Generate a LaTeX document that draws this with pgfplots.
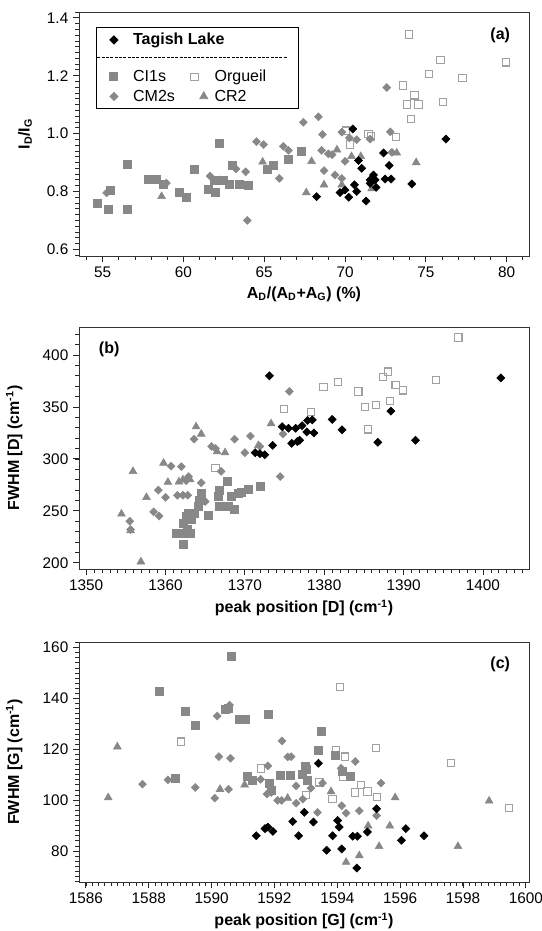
\documentclass[border=0pt]{standalone}
\usepackage{fontspec}
\setmainfont{Liberation Sans}
\usepackage{pgfplots}
\pgfplotsset{compat=1.18}
\definecolor{mgray}{RGB}{136,136,136}
\definecolor{ogray}{RGB}{160,160,160}

\tikzset{plab/.style={font=\bfseries\fontsize{12}{14}\selectfont}}
\pgfplotsset{
  panel/.style={
    scale only axis, width=337.5pt,
    axis line style={black!80, line width=0.65pt},
    tick style={black!85, line width=0.7pt},
    minor tick style={black!85, line width=0.6pt},
    tick align=outside, xtick pos=left, ytick pos=left,
    major tick length=4.5pt, minor tick length=2.8pt,
    tick label style={font=\fontsize{11.5}{13}\selectfont},
    label style={font=\bfseries\fontsize{12}{14}\selectfont},
    /pgf/number format/assume math mode=true,
    /pgf/number format/1000 sep={},
    clip=false,
  },
  tl/.style={only marks, color=black, mark=square*, mark size=2.15pt, mark options={rotate=45, fill=black, draw=black}},
  ci/.style={only marks, color=mgray, mark=square*, mark size=3pt, mark options={fill=mgray, draw=mgray}},
  og/.style={only marks, color=ogray, mark=square, mark size=2.75pt, mark options={draw=ogray, line width=0.8pt}},
  cm/.style={only marks, color=mgray, mark=square*, mark size=2.1pt, mark options={rotate=45, fill=mgray, draw=mgray}},
  cr/.style={only marks, color=mgray, mark=triangle*, mark size=3.4pt, mark options={fill=mgray, draw=mgray}},
}

\begin{document}
\begin{tikzpicture}
\path[use as bounding box] (0,0) rectangle (406.5pt,-698.25pt);

% ---------- (a)
\begin{axis}[panel,
  at={(59.25pt,-192pt)}, anchor=south west, height=183pt,
  xmin=53.54, xmax=81.38, ymin=0.577, ymax=1.42,
  xtick={55,60,...,80}, minor xtick={54,55,...,81},
  ytick={0.6,0.8,1.0,1.2,1.4}, minor ytick={0.58,0.60,...,1.42},
  yticklabel style={/pgf/number format/.cd, fixed, fixed zerofill, precision=1},
  xlabel={A\textsubscript{D}/(A\textsubscript{D}+A\textsubscript{G}) (\%)},
  ylabel={I\textsubscript{D}/I\textsubscript{G}},
  ylabel style={at={(axis description cs:-0.12,0.5)}, anchor=center},
  legend columns=2, legend cell align=left,
  legend image code/.code={\path (0pt,0pt) (12.5pt,0pt); \draw[#1] plot coordinates {(6.25pt,0pt)};},
  legend style={at={(0.0378,0.937)}, anchor=north west, draw=black, line width=0.7pt,
    fill=white, font=\fontsize{12}{14}\selectfont, inner xsep=6.5pt, inner ysep=2.5pt,
    row sep=1.75pt, nodes={inner sep=1.5pt},
    /tikz/column 1/.style={column sep=6.3pt},
    /tikz/column 2/.style={column sep=6.55pt},
    /tikz/column 3/.style={column sep=0pt}},
]
\addlegendimage{tl}
\addlegendentry{\makebox[0pt][l]{\textbf{Tagish Lake}}}
\addlegendimage{empty legend}
\addlegendentry{}
\addlegendimage{empty legend}
\addlegendentry{\rule{0pt}{6.4pt}\makebox[0pt][l]{\hspace*{-26.8pt}\xleaders\hbox to 3.2pt{\rule[2.8pt]{2.2pt}{0.8pt}\hss}\hskip 143pt\relax}}
\addlegendimage{empty legend}
\addlegendentry{}
\addlegendimage{ci}
\addlegendentry{CI1s}
\addlegendimage{og, xshift=-7pt}
\addlegendentry{Orgueil\hspace*{16pt}}
\addlegendimage{cm}
\addlegendentry{CM2s}
\addlegendimage{cr}
\addlegendentry{CR2}

\addplot[og, forget plot] coordinates {
(73.97,1.342) (75.90,1.254) (75.20,1.205) (77.27,1.191) (79.96,1.246)
(73.60,1.166) (74.30,1.132) (73.84,1.100) (74.55,1.100) (76.05,1.109)
(74.07,1.051) (73.16,0.988) (71.45,0.998) (71.60,0.990) (70.05,1.010)
(70.30,0.962)
};
\addplot[ci, forget plot] coordinates {
(54.65,0.760) (55.32,0.737) (55.45,0.805) (56.50,0.893) (56.55,0.740)
(57.85,0.841) (58.35,0.841) (58.75,0.826) (59.75,0.797) (60.20,0.781)
(60.65,0.876) (61.55,0.806) (61.95,0.797) (62.20,0.965) (61.90,0.839)
(62.45,0.838) (63.05,0.891) (62.85,0.826) (63.45,0.826) (64.00,0.823)
(65.17,0.875) (65.58,0.892) (66.50,0.912) (67.30,0.939)
};
\addplot[cm, forget plot] coordinates {
(55.25,0.795) (58.95,0.829) (61.65,0.853) (62.25,0.840) (63.25,0.878)
(63.85,0.868) (63.95,0.700) (64.52,0.972) (64.96,0.962) (72.58,1.159)
(68.35,1.058) (67.42,1.039) (68.60,0.997) (69.80,1.005) (70.27,0.985)
(70.72,0.979) (71.55,0.981) (72.80,1.006) (72.90,0.935) (66.18,0.956)
(66.50,0.942) (68.55,0.942) (68.97,0.930) (69.20,0.927) (70.00,0.904)
(68.70,0.872) (69.38,0.857) (69.80,0.845) (65.93,0.845)
};
\addplot[cr, forget plot] coordinates {
(58.65,0.783) (64.90,0.902) (69.50,0.944) (70.97,0.921) (70.40,0.921)
(67.93,0.904) (73.20,0.933) (74.40,0.900) (68.70,0.823) (67.60,0.796)
(69.80,0.823) (71.65,0.810)
};
\addplot[tl, forget plot] coordinates {
(70.48,1.016) (76.24,0.981) (72.38,0.933) (70.83,0.907) (71.03,0.880)
(72.73,0.890) (71.76,0.857) (71.55,0.840) (71.86,0.840) (72.48,0.843)
(72.85,0.843) (71.55,0.828) (71.92,0.814) (74.13,0.826) (70.58,0.823)
(70.72,0.800) (69.69,0.796) (70.00,0.805) (70.23,0.780) (68.24,0.782)
(71.30,0.767)
};
\node[plab] at (rel axis cs:0.936,0.903) {(a)};
\end{axis}

% ---------- (b)
\begin{axis}[panel,
  at={(59.25pt,-426.75pt)}, anchor=south west, height=181.5pt,
  xmin=1349.1, xmax=1405.8, ymin=194, ymax=427,
  xtick={1350,1360,...,1400}, minor xtick={1350,1351,...,1405},
  ytick={200,250,...,400}, minor ytick={200,210,...,420},
  xlabel={peak position [D] (cm\textsuperscript{-1})},
  ylabel={FWHM [D] (cm\textsuperscript{-1})},
  ylabel style={at={(axis description cs:-0.144,0.5)}, anchor=center},
]
\addplot[og] coordinates {
(1396.9,417) (1388.0,384) (1387.4,379) (1389.0,371) (1389.9,366)
(1394.1,376) (1381.75,374) (1379.9,369.5) (1384.3,365) (1388.3,356)
(1386.5,352) (1385.1,350) (1378.3,345) (1385.5,328.5) (1374.96,347.8)
(1366.3,291)
};
\addplot[ci] coordinates {
(1372.0,273.4) (1370.4,271) (1369.6,268) (1369.2,267) (1367.75,278)
(1366.8,270) (1366.6,264.4) (1368.3,264) (1366.8,254) (1368.7,251.6)
(1367.9,254) (1365.4,246) (1364.5,267) (1364.3,260.6) (1364.1,254)
(1363.6,248) (1363.2,241.6) (1362.9,248) (1362.6,244.6) (1362.2,238)
(1361.3,228.5) (1362.2,228.5) (1363.1,228) (1362.2,218) (1362.7,232)
};
\addplot[cm] coordinates {
(1375.6,365) (1374.45,283) (1374.8,324) (1371.9,312) (1370.7,322)
(1368.7,319) (1370.0,306) (1365.8,312) (1366.3,310) (1367.0,288)
(1363.6,319) (1362.0,292.6) (1360.7,293) (1362.9,283) (1362.6,279)
(1361.5,265) (1362.2,265) (1362.8,265) (1364.5,277) (1365.0,259)
(1359.1,270) (1360.0,263) (1358.5,249) (1359.2,245) (1355.5,240)
(1355.6,232)
};
\addplot[cr] coordinates {
(1363.85,331) (1364.5,324) (1373.3,334) (1371.7,313) (1366.5,307)
(1367.5,306) (1359.75,296) (1355.9,288) (1360.3,277.6) (1361.7,278)
(1362.2,280) (1363.1,280) (1357.6,263) (1354.45,247) (1355.6,231)
(1356.9,201)
};
\addplot[tl] coordinates {
(1402.25,378) (1388.4,346) (1381.0,338) (1382.25,328) (1378.5,337.5)
(1378.7,325) (1386.75,316) (1391.5,318) (1373.1,380) (1373.5,313)
(1371.3,306) (1371.9,305) (1372.5,304) (1374.7,331) (1375.5,329.5)
(1376.4,329.5) (1377.2,332) (1375.9,315) (1376.6,316.7) (1376.9,318)
(1377.9,337) (1377.8,326)
};
\node[plab] at (rel axis cs:0.067,0.908) {(b)};
\end{axis}

% ---------- (c)
\begin{axis}[panel,
  at={(59.25pt,-661.5pt)}, anchor=south west, height=180pt,
  xmin=1585.78, xmax=1600.1, ymin=67.8, ymax=162.2,
  xtick={1586,1588,...,1600}, minor xtick={1586,1586.2,...,1600},
  ytick={80,100,...,160}, minor ytick={68,70,...,162},
  xlabel={peak position [G] (cm\textsuperscript{-1})},
  ylabel={FWHM [G] (cm\textsuperscript{-1})},
  ylabel style={at={(axis description cs:-0.144,0.5)}, anchor=center},
]
\addplot[og] coordinates {
(1589.02,123.0) (1591.58,112.5) (1593.00,102.0) (1594.08,144.6) (1595.23,120.4)
(1597.61,114.5) (1599.46,96.9) (1593.96,119.7) (1594.25,117.1) (1594.19,109.3)
(1594.75,106.0) (1594.56,103.0) (1594.96,103.4) (1595.26,101.2) (1593.85,100.4)
(1593.43,107.0)
};
\addplot[ci] coordinates {
(1590.62,156.6) (1588.35,142.9) (1589.17,135.0) (1589.47,129.3) (1590.43,135.7)
(1590.52,136.3) (1590.89,131.8) (1591.07,131.8) (1591.79,133.7) (1588.83,108.6)
(1591.12,109.5) (1591.28,108.0) (1591.84,106.7) (1591.90,104.0) (1592.20,109.7)
(1592.50,109.7) (1592.90,110.0) (1593.00,112.0) (1593.05,108.0) (1593.48,126.9)
(1593.40,119.7) (1593.93,117.8) (1594.17,111.5) (1594.40,109.3) (1592.97,113.2)
};
\addplot[cm] coordinates {
(1590.57,137.4) (1590.18,133.1) (1587.80,106.3) (1588.61,108.0) (1589.48,105.0)
(1590.10,100.8) (1590.23,117.1) (1590.60,116.5) (1590.54,104.3) (1592.24,123.3)
(1592.42,117.0) (1591.79,113.5) (1591.56,108.2) (1591.76,102.4) (1591.90,103.0)
(1592.10,99.9) (1592.23,99.9) (1592.69,105.6) (1592.69,98.8) (1592.90,100.4)
(1592.53,117.1) (1593.53,106.7) (1593.16,104.7) (1593.37,95.2) (1594.14,97.8)
(1594.28,94.9) (1594.57,115.2) (1594.70,95.8) (1595.39,106.7) (1595.25,93.9)
(1594.12,112.5)
};
\addplot[cr] coordinates {
(1587.00,121.0) (1586.71,101.0) (1590.27,104.3) (1591.05,106.0) (1592.42,100.8)
(1593.80,103.4) (1595.84,101.0) (1598.83,99.7) (1594.98,89.9) (1595.67,89.9)
(1595.33,81.8) (1597.84,81.8) (1594.28,75.6) (1594.70,78.2)
};
\addplot[tl] coordinates {
(1591.42,86.0) (1591.70,88.8) (1591.79,89.4) (1591.95,87.7) (1592.58,91.6)
(1592.95,95.2) (1592.77,86.0) (1593.40,114.5) (1593.24,91.4) (1594.01,92.0)
(1594.06,89.4) (1593.85,86.0) (1593.66,80.3) (1594.14,80.8) (1594.49,85.8)
(1594.64,85.8) (1594.96,87.5) (1595.25,96.6) (1596.18,88.8) (1596.04,84.2)
(1596.76,86.0) (1594.62,73.3)
};
\node[plab] at (rel axis cs:0.936,0.907) {(c)};
\end{axis}
\end{tikzpicture}
\end{document}
